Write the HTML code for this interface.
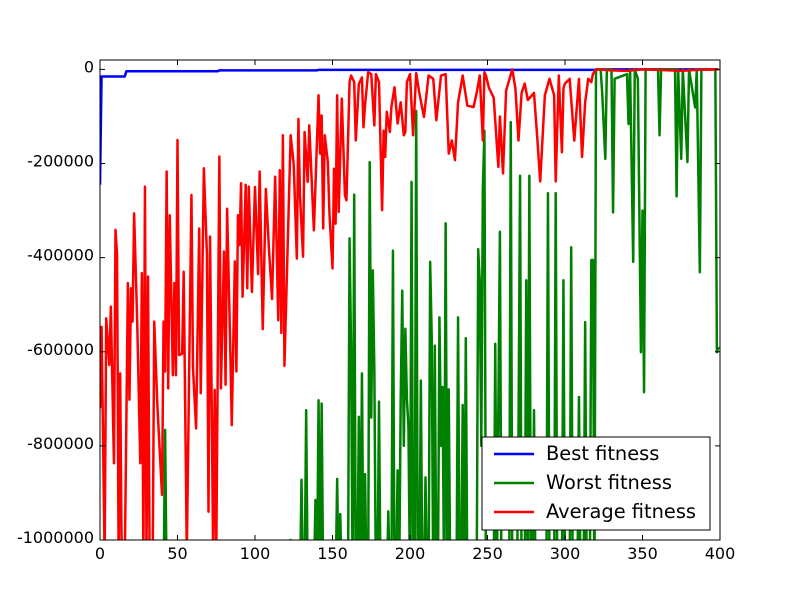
<!DOCTYPE html>
<html><head><meta charset="utf-8"><style>
html,body{margin:0;padding:0;background:#fff;}
svg text{font-family:"DejaVu Sans","Liberation Sans",sans-serif;}
</style></head><body>
<svg id="chart" width="800" height="600" viewBox="0 0 800 600" xmlns="http://www.w3.org/2000/svg">
<defs><clipPath id="plotclip"><rect x="100" y="60" width="620" height="480"/></clipPath></defs>
<rect x="0" y="0" width="800" height="600" fill="#fff"/>
<g id="series" clip-path="url(#plotclip)"></g>
<rect x="100" y="60" width="620" height="480" fill="none" stroke="#000" stroke-width="1"/>
<g id="axes"></g>
<g>
<rect x="482" y="437" width="228" height="93" fill="#fff" stroke="#000" stroke-width="1"/>
<line x1="494" y1="454" x2="534" y2="454" stroke="#0000ff" stroke-width="2.5"/>
<text x="546" y="460" font-size="19.4">Best fitness</text>
<line x1="494" y1="483" x2="534" y2="483" stroke="#008000" stroke-width="2.5"/>
<text x="546" y="489" font-size="19.4">Worst fitness</text>
<line x1="494" y1="512" x2="534" y2="512" stroke="#ff0000" stroke-width="2.5"/>
<text x="546" y="518" font-size="19.4">Average fitness</text>
</g>
</svg>
<script>
const xTicks=[0,50,100,150,200,250,300,350,400];
const yTicks=[0,-200000,-400000,-600000,-800000,-1000000];
const bestGen=[0,1,16,17,76,77,140,141,320,321,399];
const bestVal=[-245,-15,-15,-4,-4,-2,-2,-1,-1,0,0];
const worstGen=[0,41,42,43,122,123,124,129,130,131,132,133,134,138,139,140,141,142,143,144,152,153,154,155,156,160,161,162,163,164,165,166,167,168,169,170,171,172,173,174,175,176,177,178,179,180,181,185,186,187,188,189,190,191,192,193,194,195,196,197,198,199,200,201,202,203,204,205,206,207,208,209,210,211,212,213,214,215,216,217,218,219,220,221,222,223,224,225,226,230,231,232,233,234,235,236,237,243,244,245,246,247,248,249,254,255,256,258,259,264,265,266,269,270,271,272,274,275,276,277,278,279,280,281,288,289,290,293,294,295,298,299,300,303,304,305,308,309,310,312,313,314,316,317,318,319,320,323,324,326,327,330,331,332,340,341,342,344,345,347,349,350,351,352,360,361,362,371,372,373,375,376,379,380,384,385,387,388,397,398,399];
const worstVal=[-1100,-1100,-766,-1100,-1100,-1000,-1100,-1100,-872,-1100,-1100,-724,-1100,-1100,-915,-1100,-703,-1100,-710,-1100,-1100,-870,-1100,-945,-1100,-1100,-359,-600,-1100,-266,-1100,-1100,-738,-1100,-646,-1100,-860,-1100,-1100,-197,-740,-427,-639,-1100,-1100,-706,-1100,-1100,-939,-1100,-1100,-385,-1100,-1100,-852,-1100,-700,-470,-800,-551,-700,-760,-1100,-239,-1100,-1100,-88,-1100,-1100,-661,-1100,-1100,-867,-1100,-1100,-409,-566,-1100,-587,-1100,-1100,-527,-800,-675,-1100,-327,-1100,-680,-1100,-1100,-527,-1100,-1100,-713,-1100,-571,-1100,-1100,-382,-450,-800,-256,-130,-1100,-1100,-583,-1100,-345,-1100,-1100,-112,-1100,-1100,-771,-226,-1100,-1100,-448,-1100,-226,-1100,-1100,-724,-1100,-1100,-263,-1100,-1100,-263,-1100,-1100,-448,-1100,-1100,-378,-1100,-1100,-696,-1100,-1100,-537,-1100,-1100,-405,-405,-1100,0,0,-50,-190,0,0,-304,-20,-10,-116,0,-409,0,-20,-601,-300,-686,0,0,-140,0,0,-270,0,-190,0,-197,0,-81,0,-431,0,0,-601,-590];
const avgGen=[0,1,3,4,6,7,9,10,11,12,13,14,16,18,19,20,21,22,24,26,27,28,29,30,31,32,34,35,37,40,41,42,43,44,45,47,48,49,50,51,53,54,56,59,60,62,64,65,67,69,70,71,73,74,75,77,78,80,81,82,84,85,87,88,89,90,91,92,94,95,96,98,100,102,103,105,107,109,111,113,115,116,117,118,119,123,125,127,128,129,131,132,134,135,138,141,142,143,144,145,147,148,150,151,152,153,154,156,158,159,161,162,164,165,167,169,170,171,173,175,177,178,180,182,183,184,185,187,188,190,192,194,196,197,198,200,202,204,206,209,212,215,217,220,223,225,227,229,231,234,237,241,243,245,247,248,249,251,254,257,258,260,262,266,268,270,272,274,276,280,282,284,287,290,293,294,296,298,299,300,303,306,309,311,313,315,317,318,320,330,340,350,360,375,385,399];
const avgVal=[-720,-547,-1040,-529,-628,-504,-837,-341,-394,-1040,-646,-1040,-1040,-454,-702,-465,-536,-306,-536,-837,-433,-1040,-249,-1040,-440,-1040,-1040,-536,-713,-904,-536,-642,-217,-678,-310,-650,-454,-650,-150,-607,-604,-430,-1030,-267,-635,-763,-338,-688,-210,-394,-940,-355,-1030,-681,-1040,-185,-678,-387,-670,-296,-586,-756,-408,-642,-310,-373,-242,-483,-245,-465,-249,-473,-250,-435,-217,-552,-254,-381,-488,-228,-533,-214,-560,-140,-630,-140,-203,-402,-105,-267,-398,-133,-239,-119,-342,-55,-179,-98,-338,-140,-197,-303,-423,-211,-328,-55,-303,-62,-267,-278,-27,-13,-27,-151,-31,-17,-123,-75,-6,-10,-119,-10,-27,-299,-130,-186,-90,-133,-80,-38,-115,-70,-140,-133,-27,-10,-140,-8,-50,-101,-13,-20,-108,-13,-10,-179,-151,-193,-70,-13,-77,-80,-50,-13,-151,-6,-13,-40,-60,-207,-100,-221,-45,0,-40,-151,-50,-30,-65,-50,-140,-238,-55,-20,-55,-238,-13,-176,-40,-30,-20,-151,-20,-186,-70,-20,-27,-10,0,-2,-3,0,-1,-3,-1,0];

const NS="http://www.w3.org/2000/svg";
function xs(g){return 100+g*620/400;}
function ys(v){return 60+(20000-v)*480/1020000;}
const series=document.getElementById('series');
function drawLine(gens,vals,color,name){
  const p=document.createElementNS(NS,'polyline');
  p.setAttribute('points',gens.map((g,i)=>xs(g).toFixed(2)+','+ys(vals[i]*1000).toFixed(2)).join(' '));
  p.setAttribute('fill','none');p.setAttribute('stroke',color);p.setAttribute('stroke-width','2.5');
  p.setAttribute('stroke-linejoin','round');
  
  
  series.appendChild(p);
}
drawLine(bestGen,bestVal,'#0000ff','best-fitness-line');
drawLine(worstGen,worstVal,'#008000','worst-fitness-line');
drawLine(avgGen,avgVal,'#ff0000','average-fitness-line');

const axes=document.getElementById('axes');
function mk(tag,attrs){const e=document.createElementNS(NS,tag);for(const k in attrs)e.setAttribute(k,attrs[k]);axes.appendChild(e);return e;}
xTicks.forEach(t=>{
  const x=xs(t);
  mk('line',{x1:x,y1:540,x2:x,y2:535,stroke:'#000'});
  mk('line',{x1:x,y1:60,x2:x,y2:65,stroke:'#000'});
  const tx=mk('text',{x:x,y:559,'font-size':'16','text-anchor':'middle'});
  tx.textContent=t;
  
  
});
yTicks.forEach(t=>{
  const y=ys(t);
  mk('line',{x1:100,y1:y,x2:105,y2:y,stroke:'#000'});
  mk('line',{x1:720,y1:y,x2:715,y2:y,stroke:'#000'});
  const tx=mk('text',{x:94,y:y+3,'font-size':'16','text-anchor':'end'});
  tx.textContent=''+t;
  
  
});
</script>
</body></html>
